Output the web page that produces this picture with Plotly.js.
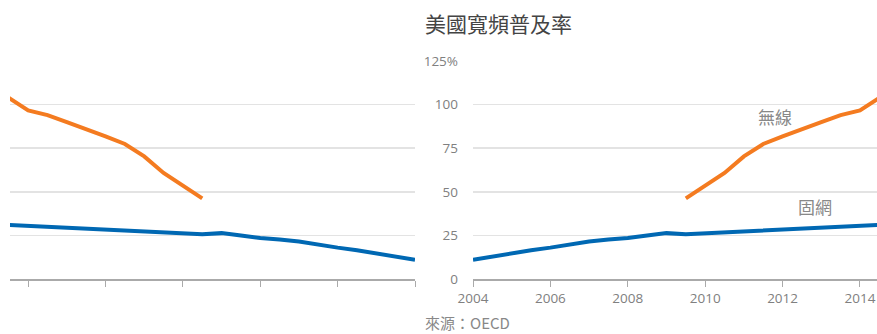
<!DOCTYPE html>
<html>
<head>
<meta charset="utf-8">
<script src="https://cdn.plot.ly/plotly-3.0.1.min.js"></script>
<style>html,body{margin:0;padding:0;background:#fff;}#chart{width:877px;height:334px;}</style>
</head>
<body>
<div id="chart"></div>
<script>
// Data (semi-annual)
const fixedYears = [2004, 2004.5, 2005, 2005.5, 2006, 2006.5, 2007, 2007.5, 2008, 2008.5, 2009, 2009.5, 2010, 2010.5, 2011, 2011.5, 2012, 2012.5, 2013, 2013.5, 2014, 2014.5];
const fixedValues = [11, 13, 14.7, 16.5, 18, 20, 21.5, 22.6, 23.5, 25, 26.3, 25.7, 26.2, 27, 27.5, 27.8, 28.4, 29, 29.6, 30.1, 30.6, 31];
const wirelessYears = [2009.5, 2010, 2010.5, 2011, 2011.5, 2012, 2012.5, 2013, 2013.5, 2014, 2014.5];
const wirelessValues = [46.2, 53.3, 60.8, 70.3, 77.4, 81.8, 85.6, 90, 94, 96.7, 103.8];
const yTickVals = [0, 25, 50, 75, 100, 125];
const yTickText = ['0', '25', '50', '75', '100', '125%'];
const xTickVals = [2004, 2006, 2008, 2010, 2012, 2014];
const xTickText = ['2004', '2006', '2008', '2010', '2012', '2014'];

const BLUE = '#0068b3', ORANGE = '#f47b20';
const W = 877;
const numFont = {family: 'Open Sans, Noto Sans, sans-serif', size: 13.5, color: '#808080'};
const cjk = 'Noto Sans CJK TC, Noto Sans, sans-serif';

const traces = [
  // mirrored left panel
  {x: fixedYears, y: fixedValues, xaxis: 'x', yaxis: 'y2', mode: 'lines', line: {color: BLUE, width: 4}, hoverinfo: 'skip'},
  {x: wirelessYears, y: wirelessValues, xaxis: 'x', yaxis: 'y2', mode: 'lines', line: {color: ORANGE, width: 4}, hoverinfo: 'skip'},
  // right panel
  {x: fixedYears, y: fixedValues, xaxis: 'x2', yaxis: 'y', mode: 'lines', line: {color: BLUE, width: 4}, hoverinfo: 'skip'},
  {x: wirelessYears, y: wirelessValues, xaxis: 'x2', yaxis: 'y', mode: 'lines', line: {color: ORANGE, width: 4}, hoverinfo: 'skip'}
];

const layout = {
  width: 877, height: 334,
  margin: {l: 0, r: 0, t: 61, b: 55, pad: 0},
  paper_bgcolor: '#fff', plot_bgcolor: '#fff',
  showlegend: false,
  xaxis: {
    domain: [10 / W, 415 / W], range: [2014.47, 2004], anchor: 'y2',
    tickvals: xTickVals, showticklabels: false, ticks: 'outside', ticklen: 6, tickcolor: '#aaa', tickwidth: 1,
    showgrid: false, zeroline: false, showline: true, linecolor: '#aaa', linewidth: 1.5
  },
  xaxis2: {
    domain: [473 / W, 1], range: [2004, 2014.44], anchor: 'y',
    tickvals: xTickVals, ticktext: xTickText, ticks: 'outside', ticklen: 6, tickcolor: '#aaa', tickwidth: 1,
    tickfont: numFont, showgrid: false, zeroline: false, showline: true, linecolor: '#aaa', linewidth: 1.5
  },
  yaxis: {
    range: [0, 125], anchor: 'x2', side: 'left', tickvals: yTickVals, ticktext: yTickText,
    tickfont: numFont, ticks: '', ticklabelstandoff: 14,
    showgrid: true, gridcolor: '#e3e3e3', gridwidth: 1.5, zeroline: false, showline: false
  },
  yaxis2: {
    range: [0, 125], anchor: 'x', tickvals: yTickVals, showticklabels: false, ticks: '',
    showgrid: true, gridcolor: '#e3e3e3', gridwidth: 1.5, zeroline: false, showline: false
  },
  annotations: [
    {text: '美國寬頻普及率', xref: 'paper', yref: 'paper', x: 423 / W, y: 1, yanchor: 'middle', xanchor: 'left', yshift: 38, showarrow: false,
     font: {family: cjk, size: 21, color: '#444'}},
    {text: '來源：OECD', xref: 'paper', yref: 'paper', x: 423 / W, y: 0, yanchor: 'middle', xanchor: 'left', yshift: -43, showarrow: false,
     font: {family: cjk, size: 15, color: '#888'}},
    {text: '無線', xref: 'x2', yref: 'y', x: 2011.81, y: 93.3, showarrow: false, font: {family: cjk, size: 17, color: '#888'}},
    {text: '固網', xref: 'x2', yref: 'y', x: 2012.85, y: 41.8, showarrow: false, font: {family: cjk, size: 17, color: '#888'}}
  ]
};

Plotly.newPlot('chart', traces, layout, {displayModeBar: false, staticPlot: true});
</script>
</body>
</html>
